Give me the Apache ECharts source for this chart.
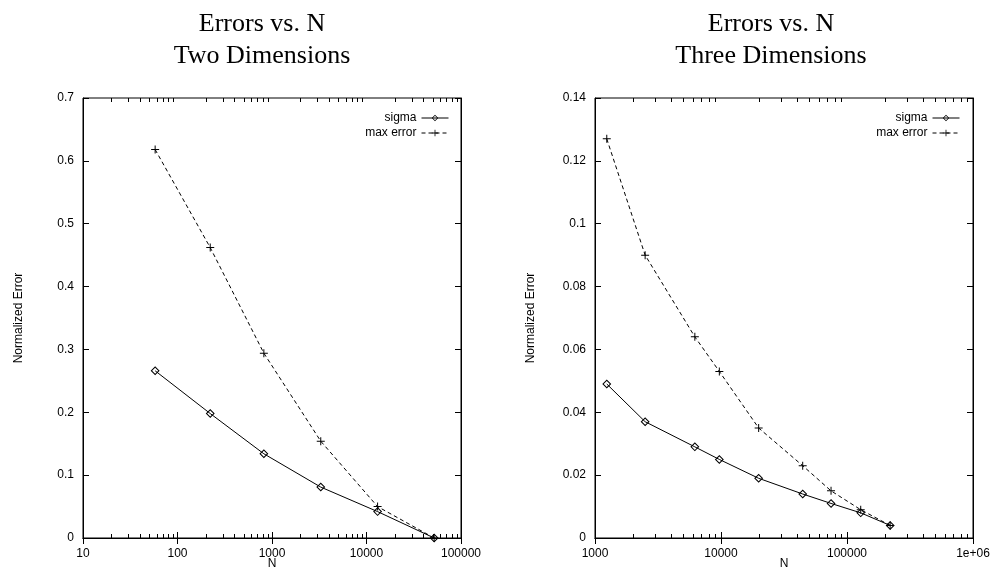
<!DOCTYPE html>
<html>
<head>
<meta charset="utf-8">
<title>Errors vs. N</title>
<script src="https://cdn.jsdelivr.net/npm/echarts@6/dist/echarts.min.js"></script>
<style>
html, body { margin: 0; padding: 0; background: #fff; }
#chart { width: 992px; height: 569px; }
</style>
</head>
<body>
<div id="chart"></div>
<script>
// two dimensions
var n2d = [58, 222, 820, 3280, 13100, 52000];
var sigma2d = [0.266, 0.198, 0.134, 0.081, 0.042, 0];
var maxErr2d = [0.618, 0.462, 0.294, 0.154, 0.050, 0];

// three dimensions
var n3d = [1240, 2500, 6200, 9700, 19900, 44500, 74700, 128500, 220000];
var sigma3d = [0.049, 0.037, 0.029, 0.025, 0.019, 0.014, 0.011, 0.008, 0.004];
var maxErr3d = [0.127, 0.090, 0.064, 0.053, 0.035, 0.023, 0.015, 0.009, 0.004];

// minor tick positions on the log axes
var minor2d = [20, 30, 40, 50, 60, 70, 80, 90,
    200, 300, 400, 500, 600, 700, 800, 900,
    2000, 3000, 4000, 5000, 6000, 7000, 8000, 9000,
    20000, 30000, 40000, 50000, 60000, 70000, 80000, 90000];
var minor3d = [2000, 3000, 4000, 5000, 6000, 7000, 8000, 9000,
    20000, 30000, 40000, 50000, 60000, 70000, 80000, 90000,
    200000, 300000, 400000, 500000, 600000, 700000, 800000, 900000];

var seriesNames = ['sigma', 'max error'];
var titleLines = [['Errors vs. N', 'Two Dimensions'], ['Errors vs. N', 'Three Dimensions']];

var sansFont = '"Liberation Sans", Arial, sans-serif';
var plusPath = 'path://M3.5,0H4.5V3.5H8V4.5H4.5V8H3.5V4.5H0V3.5H3.5Z';
// hollow diamond: outer clockwise, inner counter-clockwise
var diamondPath = 'path://M4,0L8,4L4,8L0,4ZM4,1.3L1.3,4L4,6.7L6.7,4Z';

function pairs(xs, ys) {
    var out = [];
    for (var i = 0; i < xs.length; i++) out.push([xs[i], ys[i]]);
    return out;
}

function minorTickItem(params, api) {
    var v = api.value(0);
    var lo = api.coord([v, api.value(1)]);
    var hi = api.coord([v, api.value(2)]);
    var x = Math.round(lo[0]) + 0.5;
    return {
        type: 'group',
        children: [
            {type: 'line', shape: {x1: x, y1: lo[1], x2: x, y2: lo[1] - 4}, style: {stroke: '#000', lineWidth: 1}},
            {type: 'line', shape: {x1: x, y1: hi[1], x2: x, y2: hi[1] + 4}, style: {stroke: '#000', lineWidth: 1}}
        ]
    };
}

function xAxes(gridIndex, min, max) {
    var base = {
        type: 'log', logBase: 10, gridIndex: gridIndex, min: min, max: max,
        axisLine: {show: true, lineStyle: {color: '#000', width: 1}},
        axisTick: {show: true, inside: true, length: 6, lineStyle: {color: '#000'}},
        splitLine: {show: false}
    };
    var bottom = echarts.util.merge({
        position: 'bottom', name: 'N', nameLocation: 'middle', nameGap: 20, nameMoveOverlap: false,
        nameTextStyle: {color: '#000', fontFamily: sansFont, fontSize: 12},
        axisLabel: {
            color: '#000', fontFamily: sansFont, fontSize: 12, margin: 10,
            formatter: function (v) { return v >= 1000000 ? '1e+06' : String(v); }
        }
    }, base, true);
    var top = echarts.util.merge({position: 'top', axisLabel: {show: false}}, base, true);
    return [bottom, top];
}

function yAxes(gridIndex, max, interval) {
    var base = {
        type: 'value', gridIndex: gridIndex, min: 0, max: max, interval: interval,
        axisLine: {show: true, lineStyle: {color: '#000', width: 1}},
        axisTick: {show: true, inside: true, length: 6, lineStyle: {color: '#000'}},
        splitLine: {show: false}
    };
    var left = echarts.util.merge({
        position: 'left', name: 'Normalized Error', nameLocation: 'middle', nameGap: 58, nameMoveOverlap: false,
        nameTextStyle: {color: '#000', fontFamily: sansFont, fontSize: 12},
        axisLabel: {color: '#000', fontFamily: sansFont, fontSize: 12, margin: 9}
    }, base, true);
    var right = echarts.util.merge({position: 'right', axisLabel: {show: false}}, base, true);
    return [left, right];
}

function plotSeries(axisIdx, xs, sig, mx, minor, ymax) {
    return [
        {
            name: seriesNames[0], type: 'line', xAxisIndex: axisIdx, yAxisIndex: axisIdx,
            data: pairs(xs, sig),
            symbol: diamondPath, symbolSize: 9,
            itemStyle: {color: '#000'},
            lineStyle: {color: '#000', width: 1}
        },
        {
            name: seriesNames[1], type: 'line', xAxisIndex: axisIdx, yAxisIndex: axisIdx,
            data: pairs(xs, mx),
            symbol: plusPath, symbolSize: 8,
            itemStyle: {color: '#000'},
            lineStyle: {color: '#000', width: 1, type: [4, 3]}
        },
        {
            type: 'custom', xAxisIndex: axisIdx, yAxisIndex: axisIdx, silent: true,
            renderItem: minorTickItem,
            data: minor.map(function (v) { return [v, 0, ymax]; })
        }
    ];
}

var myChart = echarts.init(document.getElementById('chart'), null, {renderer: 'canvas'});

var titleStyle = {color: '#000', fontFamily: '"Liberation Serif", "Times New Roman", serif', fontSize: 26, fontWeight: 'normal', lineHeight: 32};
var legendBase = {
    orient: 'vertical', align: 'right', top: 112, padding: 0,
    itemWidth: 27, itemHeight: 8, itemGap: 3,
    data: seriesNames,
    lineStyle: {width: 1},
    textStyle: {color: '#000', fontFamily: sansFont, fontSize: 12},
    selectedMode: false
};

var option = {
    animation: false,
    backgroundColor: '#fff',
    title: [
        {text: titleLines[0].join('\n'), left: 257, top: 3, textAlign: 'center', textStyle: titleStyle},
        {text: titleLines[1].join('\n'), left: 766, top: 3, textAlign: 'center', textStyle: titleStyle}
    ],
    legend: [
        echarts.util.merge({right: 543}, legendBase, true),
        echarts.util.merge({right: 32}, legendBase, true)
    ],
    grid: [
        {left: 83, top: 98, width: 378, height: 440, outerBoundsMode: 'none', show: true, borderColor: '#000', borderWidth: 1},
        {left: 595, top: 98, width: 378, height: 440, outerBoundsMode: 'none', show: true, borderColor: '#000', borderWidth: 1}
    ],
    xAxis: xAxes(0, 10, 100000).concat(xAxes(1, 1000, 1000000)),
    yAxis: yAxes(0, 0.7, 0.1).concat(yAxes(1, 0.14, 0.02)),
    series: plotSeries(0, n2d, sigma2d, maxErr2d, minor2d, 0.7)
        .concat(plotSeries(2, n3d, sigma3d, maxErr3d, minor3d, 0.14))
};

myChart.setOption(option);
</script>
</body>
</html>
